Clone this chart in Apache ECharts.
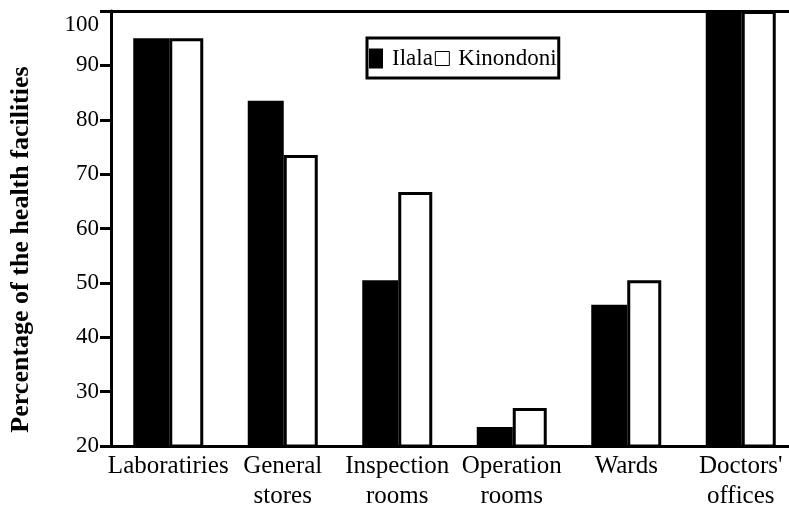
<!DOCTYPE html>
<html>
<head>
<meta charset="utf-8">
<script src="https://cdn.jsdelivr.net/npm/echarts@6/dist/echarts.min.js"></script>
<style>
  html, body { margin: 0; padding: 0; background: #fff; }
  #chart { width: 789px; height: 529px; }
</style>
</head>
<body>
<div id="chart"></div>
<script>
const categories = ['Laboratiries', 'General\nstores', 'Inspection\nrooms', 'Operation\nrooms', 'Wards', "Doctors'\noffices"]
const ilala = [95, 83.5, 50.5, 23.5, 46, 100]
const kinondoni = [95, 73.5, 66.7, 27, 50.5, 100]
const yTicks = { min: 20, max: 100, interval: 10 }

const serif = '"Liberation Serif", "Times New Roman", serif'

const chart = echarts.init(document.getElementById('chart'), null, { renderer: 'canvas' })

chart.setOption({
  backgroundColor: '#fff',
  animation: false,
  textStyle: { fontFamily: serif, color: '#000' },
  grid: { left: 111, top: 11, width: 687, bottom: 83, outerBoundsMode: 'none', containLabel: false },
  legend: {
    left: 367,
    top: 38,
    padding: [9, 2, 8, 2],
    itemGap: 2,
    itemWidth: 14,
    itemHeight: 20,
    borderColor: '#000',
    borderWidth: 3,
    textStyle: { fontFamily: serif, fontSize: 23, color: '#000', padding: [0, 0, 0, 4] },
    data: [
      { name: 'Ilala', icon: 'rect', itemStyle: { color: '#000', borderWidth: 0 } },
      { name: 'Kinondoni', icon: 'path://M0,0 L10,0 L10,10 L0,10 Z', itemStyle: { color: '#fff', borderColor: '#000', borderWidth: 1 } },
    ],
  },
  xAxis: [
    {
      type: 'category',
      data: categories,
      axisLine: { lineStyle: { color: '#000', width: 3 } },
      axisTick: { show: false },
      axisLabel: {
        interval: 0,
        margin: 5,
        color: '#000',
        fontFamily: serif,
        fontSize: 25,
        lineHeight: 30,
      },
    },
    {
      type: 'category',
      position: 'top',
      data: categories,
      axisLine: { lineStyle: { color: '#000', width: 3 } },
      axisTick: { show: false },
      axisLabel: { show: false },
    },
  ],
  yAxis: {
    type: 'value',
    min: yTicks.min,
    max: yTicks.max,
    interval: yTicks.interval,
    name: 'Percentage of the health facilities',
    nameLocation: 'middle',
    nameGap: 77,
    nameTextStyle: {
      fontFamily: serif,
      fontWeight: 'bold',
      fontSize: 26,
      color: '#000',
      padding: [0, 42, 0, 0],
    },
    axisLine: { show: true, lineStyle: { color: '#000', width: 3 } },
    axisTick: { show: true, length: 11, lineStyle: { color: '#000', width: 3 } },
    splitLine: { show: false },
    axisLabel: {
      margin: 12,
      color: '#000',
      fontFamily: serif,
      fontSize: 23,
      formatter: (v) => (v === 100 ? '{t|100}' : String(v)),
      rich: { t: { fontFamily: serif, fontSize: 23, color: '#000', padding: [28, 0, 0, 0] } },
    },
  },
  series: [
    {
      name: 'Ilala',
      type: 'bar',
      data: ilala,
      barWidth: 36,
      barGap: '0%',
      itemStyle: { color: '#000' },
    },
    {
      name: 'Kinondoni',
      type: 'bar',
      data: kinondoni,
      barWidth: 34,
      barGap: '0%',
      itemStyle: { color: '#fff', borderColor: '#000', borderWidth: 3 },
    },
  ],
})
</script>
</body>
</html>
